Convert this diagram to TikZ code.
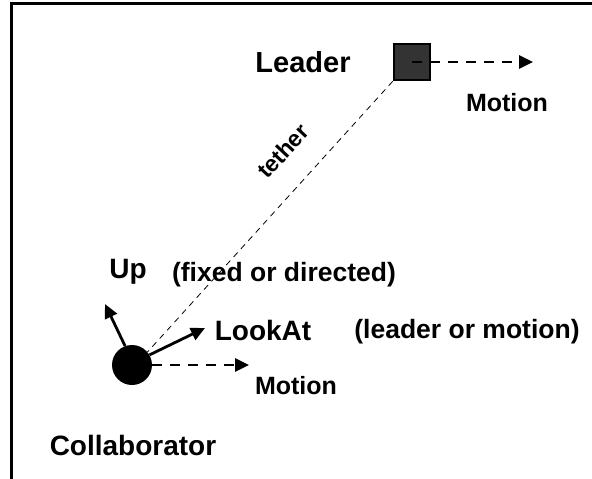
\documentclass[tikz,border=0pt]{standalone}
\usepackage{fontspec}
\setmainfont{Liberation Sans}
\usetikzlibrary{arrows.meta}
\definecolor{leadfill}{HTML}{333333}
\begin{document}
\begin{tikzpicture}[x=1pt,y=-1pt,
  big/.style={font=\fontsize{28}{32}\selectfont\bfseries, inner sep=0pt},
  small/.style={font=\fontsize{25}{29}\selectfont\bfseries, inner sep=0pt},
  note/.style={font=\fontsize{26.5}{30}\selectfont\bfseries, inner sep=0pt},
  vec/.style={line width=2.8pt, -{Triangle[length=14pt,width=13pt]}},
  dvec/.style={line width=2.6pt, dash pattern=on 10pt off 8pt, -{Triangle[length=14pt,width=13pt]}},
  tetherline/.style={line width=0.8pt, dash pattern=on 6pt off 5pt}]
\useasboundingbox (0,0) rectangle (592,479);
\draw[line width=3pt] (11.5,482) -- (11.5,3.5) -- (595,3.5);
% leader
\node[draw, line width=2.6pt, fill=leadfill, minimum size=36pt, inner sep=0pt] (lead) at (412,62) {};
\coordinate (leadtip) at (533,62);
\draw[dvec] (lead.center) -- (leadtip);
\node[big, font=\fontsize{29}{33}\selectfont\bfseries] (leadlabel) at (303,62) {Leader};
\node[small] (leadmotion) at (507,103) {Motion};
% collaborator
\node[circle, fill=black, minimum size=40pt, inner sep=0pt] (coll) at (132,365) {};
\draw[tetherline] (lead.south west) -- (coll.40);
\node[font=\fontsize{23}{27}\selectfont\bfseries, inner sep=0pt, rotate=47] (tetherlabel) at (283,151) {tether};
\coordinate (uptip) at (105,304);
\coordinate (looktip) at (205,328);
\coordinate (motiontip) at (249,365);
\draw[vec] (coll.110) -- (uptip);
\draw[vec] (coll.30) -- (looktip);
\draw[dvec] (coll.east) -- (motiontip);
\node[big] (uplabel) at (128,272) {Up};
\node[note] (upnote) at (284,275) {(fixed or directed)};
\node[big] (looklabel) at (263,330) {LookAt};
\node[note] (looknote) at (467,332) {(leader or motion)};
\node[small] (collmotion) at (296,386) {Motion};
\node[big] (colllabel) at (133,445) {Collaborator};
\end{tikzpicture}
\end{document}
